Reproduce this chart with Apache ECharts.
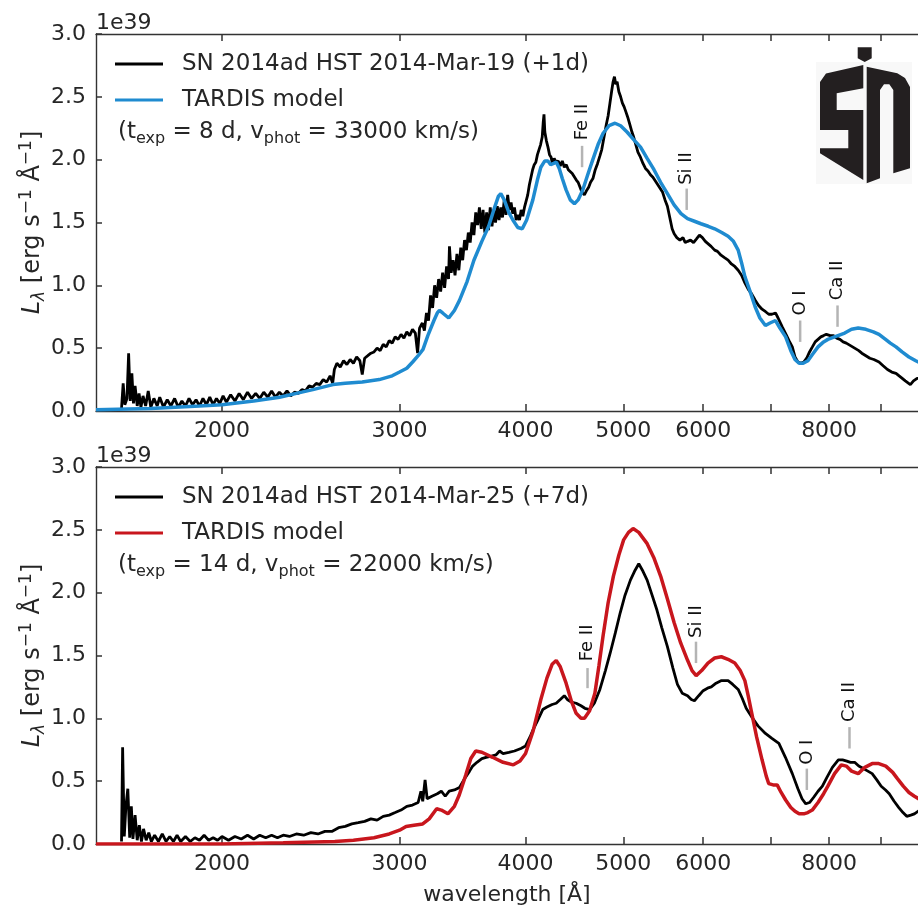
<!DOCTYPE html>
<html>
<head>
<meta charset="utf-8">
<script src="https://cdn.jsdelivr.net/npm/echarts@6.0.0/dist/echarts.min.js"></script>
<style>
  html, body { margin: 0; padding: 0; background: #fff; }
  #main { width: 918px; height: 908px; }
</style>
</head>
<body>
<div id="main"></div>
<script>
// wavelength [A], luminosity [1e39 erg/s/A]
const obsMar19 = [
  [1590,0.02],[1596,0.22],[1602,0.05],[1610,0.10],[1616,0.46],[1622,0.08],[1628,0.30],[1634,0.06],
  [1640,0.20],[1648,0.04],[1655,0.14],[1662,0.03],[1670,0.12],[1680,0.04],[1690,0.16],[1700,0.03],
  [1712,0.10],[1725,0.04],[1735,0.11],[1750,0.03],[1765,0.09],[1780,0.04],[1795,0.10],[1810,0.03],
  [1825,0.08],[1840,0.04],[1855,0.10],[1870,0.05],[1885,0.09],[1900,0.04],[1915,0.10],[1930,0.05],
  [1945,0.11],[1960,0.05],[1975,0.10],[1990,0.06],[2005,0.12],[2020,0.07],[2040,0.13],[2060,0.08],
  [2080,0.14],[2100,0.09],[2120,0.15],[2140,0.10],[2160,0.14],[2180,0.10],[2200,0.15],[2220,0.11],
  [2240,0.16],[2260,0.11],[2280,0.15],[2300,0.12],[2320,0.16],[2340,0.12],[2360,0.15],[2380,0.14],
  [2400,0.17],[2420,0.16],[2440,0.20],[2460,0.19],[2480,0.22],[2500,0.21],[2520,0.25],[2540,0.23],
  [2560,0.28],[2575,0.22],[2585,0.33],[2600,0.38],[2620,0.35],[2640,0.40],[2660,0.37],[2680,0.41],
  [2700,0.38],[2720,0.43],[2740,0.40],[2755,0.29],[2770,0.42],[2790,0.44],[2810,0.46],[2830,0.47],
  [2850,0.50],[2870,0.48],[2890,0.53],[2910,0.51],[2930,0.56],[2950,0.54],[2970,0.59],[2990,0.57],
  [3010,0.61],[3030,0.58],[3050,0.63],[3070,0.60],[3090,0.65],[3110,0.62],[3126,0.46],[3140,0.66],
  [3160,0.70],[3175,0.64],[3190,0.78],[3205,0.72],[3220,0.92],[3235,0.82],[3250,1.00],[3265,0.90],
  [3280,1.05],[3295,0.95],[3310,1.10],[3325,0.98],[3340,1.15],[3355,1.05],[3362,1.31],[3375,1.10],
  [3390,1.20],[3405,1.08],[3420,1.25],[3435,1.12],[3450,1.30],[3465,1.20],[3480,1.36],[3495,1.28],
  [3510,1.42],[3525,1.34],[3540,1.50],[3555,1.40],[3570,1.58],[3585,1.48],[3600,1.62],[3615,1.45],
  [3630,1.60],[3645,1.42],[3660,1.58],[3675,1.44],[3690,1.62],[3705,1.47],[3720,1.60],[3735,1.50],
  [3750,1.63],[3765,1.52],[3780,1.62],[3795,1.54],[3810,1.68],[3825,1.56],[3840,1.72],[3855,1.60],
  [3870,1.66],[3885,1.57],[3900,1.62],[3915,1.52],[3930,1.56],[3945,1.52],[3960,1.60],[3975,1.55],
  [3990,1.62],[4005,1.62],[4020,1.72],[4035,1.80],[4050,1.86],[4065,1.92],[4080,1.96],[4095,1.98],
  [4110,2.04],[4125,2.08],[4140,2.12],[4155,2.18],[4165,2.30],[4172,2.36],[4180,2.22],[4195,2.15],
  [4210,2.10],[4225,2.04],[4240,2.02],[4255,1.96],[4270,2.01],[4290,1.98],[4310,1.99],[4330,1.95],
  [4350,1.99],[4370,1.94],[4390,1.96],[4410,1.92],[4430,1.93],[4450,1.89],[4470,1.88],[4490,1.84],
  [4510,1.82],[4530,1.78],[4550,1.74],[4575,1.72],[4595,1.75],[4620,1.78],[4640,1.82],[4665,1.85],
  [4690,1.92],[4715,1.97],[4740,2.03],[4760,2.08],[4785,2.18],[4810,2.28],[4830,2.35],[4850,2.45],
  [4870,2.55],[4885,2.62],[4900,2.66],[4915,2.60],[4930,2.62],[4950,2.54],[4970,2.50],[4990,2.45],
  [5010,2.42],[5030,2.38],[5050,2.34],[5075,2.28],[5100,2.22],[5120,2.18],[5145,2.12],[5170,2.06],
  [5200,2.02],[5230,1.97],[5260,1.93],[5290,1.91],[5320,1.88],[5350,1.86],[5380,1.83],[5410,1.80],
  [5440,1.77],[5470,1.74],[5500,1.68],[5530,1.63],[5560,1.54],[5590,1.45],[5616,1.41],[5650,1.38],
  [5690,1.36],[5730,1.38],[5760,1.34],[5792,1.35],[5830,1.36],[5870,1.34],[5910,1.37],[5950,1.40],
  [5990,1.38],[6030,1.35],[6070,1.33],[6110,1.31],[6160,1.28],[6200,1.27],[6250,1.24],[6300,1.22],
  [6352,1.20],[6400,1.17],[6450,1.15],[6500,1.12],[6550,1.08],[6600,1.02],[6650,0.97],[6705,0.93],
  [6760,0.88],[6810,0.84],[6864,0.81],[6920,0.79],[6970,0.77],[7020,0.77],[7078,0.78],[7120,0.74],
  [7188,0.67],[7250,0.61],[7300,0.56],[7355,0.51],[7400,0.43],[7450,0.39],[7500,0.38],[7550,0.39],
  [7600,0.42],[7650,0.47],[7700,0.51],[7750,0.55],[7800,0.57],[7850,0.59],[7900,0.60],[7950,0.61],
  [7980,0.62],[8020,0.60],[8080,0.60],[8140,0.58],[8200,0.57],[8260,0.55],[8320,0.54],[8400,0.52],
  [8480,0.50],[8560,0.48],[8620,0.46],[8700,0.44],[8780,0.42],[8860,0.41],[8965,0.39],[9050,0.36],
  [9140,0.33],[9230,0.31],[9320,0.30],[9420,0.27],[9520,0.24],[9630,0.21],[9700,0.24],[9780,0.26],
  [9860,0.26]
];
const modelMar19 = [
  [1500,0.01],[1700,0.02],[1900,0.04],[2000,0.05],[2150,0.08],[2281,0.11],[2400,0.15],[2461,0.17],
  [2577,0.21],[2650,0.22],[2755,0.23],[2864,0.25],[2950,0.28],[3000,0.31],[3050,0.34],[3091,0.39],
  [3130,0.44],[3165,0.49],[3200,0.60],[3245,0.72],[3270,0.78],[3286,0.80],[3310,0.78],[3356,0.74],
  [3400,0.80],[3440,0.88],[3500,1.03],[3555,1.20],[3620,1.35],[3677,1.47],[3720,1.60],[3760,1.71],
  [3780,1.73],[3810,1.68],[3850,1.58],[3886,1.52],[3930,1.46],[3970,1.45],[4010,1.52],[4067,1.68],
  [4110,1.84],[4142,1.94],[4180,1.99],[4210,1.99],[4236,1.96],[4265,1.97],[4292,1.98],[4320,1.93],
  [4350,1.85],[4388,1.76],[4430,1.68],[4472,1.65],[4510,1.68],[4559,1.76],[4610,1.88],[4664,2.00],
  [4720,2.12],[4775,2.21],[4840,2.27],[4907,2.29],[4970,2.27],[5043,2.22],[5120,2.16],[5201,2.10],
  [5280,2.01],[5363,1.92],[5445,1.82],[5530,1.73],[5615,1.64],[5704,1.57],[5790,1.53],[5882,1.51],
  [5970,1.49],[6070,1.47],[6160,1.45],[6260,1.42],[6352,1.39],[6430,1.35],[6500,1.28],[6550,1.18],
  [6600,1.07],[6680,0.95],[6756,0.83],[6830,0.74],[6917,0.68],[6990,0.70],[7078,0.72],[7150,0.66],
  [7244,0.59],[7330,0.48],[7400,0.41],[7470,0.38],[7540,0.38],[7622,0.40],[7700,0.45],[7800,0.51],
  [7900,0.55],[7977,0.57],[8100,0.59],[8290,0.62],[8420,0.65],[8550,0.66],[8700,0.65],[8850,0.63],
  [8965,0.61],[9100,0.57],[9200,0.54],[9320,0.51],[9450,0.47],[9600,0.43],[9750,0.40],[9860,0.38]
];
const obsMar25 = [
  [1590,0.02],[1594,0.77],[1600,0.06],[1606,0.30],[1613,0.44],[1620,0.05],[1626,0.30],[1632,0.04],
  [1640,0.23],[1648,0.03],[1656,0.15],[1664,0.02],[1672,0.12],[1682,0.03],[1692,0.09],[1702,0.02],
  [1715,0.07],[1730,0.02],[1745,0.08],[1760,0.02],[1775,0.06],[1790,0.02],[1805,0.07],[1820,0.02],
  [1840,0.06],[1860,0.02],[1880,0.05],[1900,0.03],[1920,0.07],[1940,0.03],[1960,0.05],[1980,0.03],
  [2000,0.06],[2030,0.03],[2060,0.06],[2090,0.04],[2120,0.07],[2150,0.04],[2180,0.07],[2210,0.05],
  [2240,0.07],[2270,0.05],[2300,0.07],[2333,0.06],[2370,0.08],[2410,0.07],[2450,0.09],[2490,0.08],
  [2530,0.10],[2570,0.10],[2610,0.13],[2650,0.14],[2690,0.16],[2730,0.17],[2770,0.18],[2810,0.20],
  [2850,0.19],[2890,0.22],[2930,0.23],[2970,0.25],[3010,0.27],[3050,0.30],[3090,0.31],[3130,0.33],
  [3150,0.42],[3163,0.34],[3180,0.51],[3195,0.36],[3230,0.38],[3270,0.40],[3300,0.42],[3330,0.38],
  [3360,0.42],[3400,0.43],[3440,0.45],[3480,0.52],[3520,0.58],[3545,0.62],[3580,0.65],[3620,0.68],
  [3655,0.69],[3700,0.70],[3740,0.71],[3770,0.74],[3800,0.72],[3850,0.73],[3900,0.74],[3958,0.76],
  [4000,0.78],[4040,0.85],[4070,0.91],[4110,0.98],[4160,1.07],[4200,1.09],[4250,1.11],[4290,1.12],
  [4330,1.15],[4370,1.18],[4400,1.15],[4440,1.13],[4490,1.12],[4540,1.10],[4580,1.08],[4630,1.07],
  [4680,1.12],[4740,1.23],[4800,1.38],[4853,1.52],[4910,1.68],[4965,1.84],[5020,1.98],[5082,2.10],
  [5130,2.17],[5180,2.23],[5230,2.17],[5280,2.10],[5340,1.98],[5400,1.86],[5460,1.72],[5530,1.57],
  [5600,1.40],[5658,1.27],[5720,1.20],[5790,1.18],[5840,1.15],[5882,1.14],[5940,1.18],[6000,1.22],
  [6060,1.24],[6113,1.25],[6180,1.28],[6250,1.30],[6352,1.30],[6420,1.27],[6500,1.23],[6560,1.16],
  [6620,1.08],[6705,1.01],[6800,0.94],[6917,0.88],[7020,0.84],[7133,0.80],[7240,0.69],[7355,0.56],
  [7450,0.44],[7520,0.36],[7585,0.32],[7650,0.33],[7720,0.37],[7800,0.42],[7878,0.46],[7960,0.53],
  [8060,0.61],[8170,0.67],[8250,0.67],[8330,0.66],[8400,0.65],[8480,0.65],[8560,0.62],[8650,0.60],
  [8740,0.58],[8826,0.56],[8920,0.51],[9010,0.46],[9100,0.43],[9177,0.40],[9280,0.34],[9380,0.29],
  [9470,0.25],[9551,0.22],[9640,0.23],[9720,0.24],[9800,0.26],[9860,0.27]
];
const modelMar25 = [
  [1500,0.00],[2000,0.00],[2300,0.01],[2588,0.02],[2700,0.03],[2830,0.05],[2930,0.08],[3000,0.11],
  [3045,0.14],[3100,0.15],[3163,0.16],[3210,0.20],[3265,0.28],[3300,0.27],[3350,0.24],[3400,0.30],
  [3438,0.39],[3490,0.55],[3530,0.68],[3570,0.74],[3620,0.73],[3710,0.69],[3800,0.65],[3890,0.63],
  [3950,0.66],[4000,0.72],[4070,0.90],[4142,1.15],[4200,1.32],[4250,1.43],[4290,1.46],[4330,1.41],
  [4388,1.28],[4440,1.14],[4490,1.04],[4540,1.00],[4576,1.00],[4630,1.06],[4686,1.20],[4730,1.42],
  [4775,1.66],[4830,1.92],[4888,2.13],[4950,2.30],[5004,2.42],[5060,2.48],[5113,2.51],[5180,2.48],
  [5280,2.39],[5360,2.28],[5446,2.13],[5530,1.95],[5616,1.76],[5700,1.60],[5792,1.46],[5850,1.38],
  [5905,1.34],[5980,1.38],[6066,1.44],[6160,1.48],[6255,1.49],[6350,1.47],[6450,1.44],[6530,1.38],
  [6600,1.30],[6650,1.18],[6705,1.04],[6780,0.85],[6864,0.67],[6930,0.54],[6970,0.48],[7040,0.47],
  [7105,0.47],[7170,0.41],[7244,0.35],[7330,0.29],[7400,0.26],[7470,0.24],[7550,0.24],[7620,0.25],
  [7698,0.27],[7800,0.33],[7900,0.40],[7977,0.46],[8100,0.56],[8226,0.63],[8320,0.62],[8420,0.58],
  [8550,0.56],[8680,0.61],[8826,0.64],[8960,0.64],[9105,0.62],[9250,0.57],[9350,0.52],[9476,0.46],
  [9600,0.41],[9720,0.38],[9860,0.35]
];

// line IDs: [wavelength, line bottom, line top, label centre]
const lineNames = ['Fe II', 'Si II', 'O I', 'Ca II'];
const linesMar19 = [[4551,1.94,2.11,2.30],[5779,1.60,1.77,1.93],[7488,0.55,0.72,0.86],[8155,0.67,0.84,1.04]];
const linesMar25 = [[4608,1.24,1.40,1.60],[5903,1.44,1.61,1.77],[7603,0.43,0.60,0.73],[8381,0.76,0.93,1.13]];

const tickWaves = [2000, 3000, 4000, 5000, 6000, 7000, 8000, 9000];
const labelWaves = [2000, 3000, 4000, 5000, 6000, 8000];
const X_MIN = 1500, X_MAX = 9800;

const FONT = 'DejaVu Sans';
const TXT = '#262626';
const AX = '#333333';
const logX = w => Math.log10(w);
const toXY = arr => arr.map(p => [logX(p[0]), p[1]]);

function xAxisFor(grid, pos, labels, name) {
  return {
    type: 'value', gridIndex: grid, position: pos,
    min: logX(X_MIN), max: logX(X_MAX),
    name: name || '', nameLocation: 'middle', nameGap: 40,
    nameTextStyle: { fontFamily: FONT, fontSize: 22, color: TXT },
    // onZero off, otherwise the top frame axis drops onto y = 0
    axisLine: { show: true, onZero: false, lineStyle: { color: AX, width: 1.4 } },
    axisTick: { show: true, inside: true, length: 7, customValues: tickWaves.map(logX),
                lineStyle: { color: AX, width: 1.5 } },
    axisLabel: { show: labels, customValues: labelWaves.map(logX), margin: 9,
                 formatter: v => Math.round(Math.pow(10, v)),
                 fontFamily: FONT, fontSize: 22, color: TXT },
    splitLine: { show: false }
  };
}

function yAxesFor(grid) {
  return [{
    type: 'value', gridIndex: grid, position: 'left', min: 0, max: 3, interval: 0.5,
    name: '{i|L}{s|λ}{a| [erg s}{p|−1}{a| Å}{p|−1}{a|]}',
    nameLocation: 'middle', nameGap: 48, nameRotate: 90, nameMoveOverlap: false,
    nameTextStyle: {
      fontFamily: FONT, color: TXT,
      rich: {
        i: { fontFamily: FONT, fontSize: 24, fontStyle: 'italic', color: TXT, lineHeight: 30 },
        s: { fontFamily: FONT, fontSize: 17, fontStyle: 'italic', color: TXT, verticalAlign: 'bottom', lineHeight: 24 },
        a: { fontFamily: FONT, fontSize: 24, color: TXT, lineHeight: 30 },
        p: { fontFamily: FONT, fontSize: 17, color: TXT, verticalAlign: 'top', lineHeight: 24 }
      }
    },
    axisLine: { show: true, onZero: false, lineStyle: { color: AX, width: 1.4 } },
    axisTick: { show: true, inside: true, length: 6, lineStyle: { color: AX, width: 1.5 } },
    axisLabel: { formatter: v => v.toFixed(1), margin: 10, fontFamily: FONT, fontSize: 22, color: TXT },
    splitLine: { show: false }
  }, {
    // only carries the offset text
    type: 'value', gridIndex: grid, position: 'left', offset: 0, min: 0, max: 3,
    name: '1e39', nameLocation: 'end', nameGap: 0,
    nameTextStyle: { fontFamily: FONT, fontSize: 22, color: TXT, align: 'left', verticalAlign: 'bottom' },
    axisLine: { show: false, onZero: false }, axisTick: { show: false }, axisLabel: { show: false },
    splitLine: { show: false }
  }];
}

function lineSeries(name, data, xi, yi, color, width, z) {
  return {
    name: name, type: 'line', xAxisIndex: xi, yAxisIndex: yi, data: toXY(data),
    symbol: 'none', showSymbol: false, smooth: false, z: z,
    lineStyle: { color: color, width: width }, itemStyle: { color: color },
    emphasis: { disabled: true }
  };
}

function lineIdSeries(ids, xi, yi) {
  return {
    type: 'custom', xAxisIndex: xi, yAxisIndex: yi, z: 10, silent: true,
    encode: { x: 0, y: [1, 2, 3] },
    data: ids.map((d, i) => [logX(d[0]), d[1], d[2], d[3], i]),
    renderItem: function (params, api) {
      const a = api.coord([api.value(0), api.value(1)]);
      const b = api.coord([api.value(0), api.value(2)]);
      const t = api.coord([api.value(0), api.value(3)]);
      return {
        type: 'group',
        children: [{
          type: 'line', shape: { x1: a[0], y1: a[1], x2: b[0], y2: b[1] },
          style: { stroke: '#b4b4b4', lineWidth: 2.5 }
        }, {
          type: 'text', x: t[0], y: t[1], rotation: Math.PI / 2,
          style: { text: lineNames[api.value(4)], fontFamily: FONT, fontSize: 18, fill: '#111',
                   align: 'center', verticalAlign: 'middle' }
        }]
      };
    }
  };
}

function paramText(top, texp, vphot) {
  return {
    type: 'text', left: 118, top: top,
    style: {
      text: '{a|(t}{s|exp}{a| = ' + texp + ' d, v}{s|phot}{a| = ' + vphot + ' km/s)}',
      rich: {
        a: { fontFamily: FONT, fontSize: 23, fill: TXT, lineHeight: 28 },
        s: { fontFamily: FONT, fontSize: 16, fill: TXT, verticalAlign: 'bottom', lineHeight: 20 }
      }
    }
  };
}

function legendFor(top, names) {
  return {
    orient: 'vertical', left: 115, top: top, padding: 0, itemGap: 8,
    icon: 'rect', itemWidth: 48, itemHeight: 3, data: names, selectedMode: false,
    textStyle: { fontFamily: FONT, fontSize: 23, color: TXT, lineHeight: 28, padding: [0, 0, 0, 14] }
  };
}

const logoInk = '#231f20';
const logo = [
  { type: 'rect', shape: { x: 816, y: 62, width: 96, height: 122 }, style: { fill: '#f8f8f8' }, z: 1 },
  { type: 'polygon', z: 2, style: { fill: logoInk },
    shape: { points: [[857.7,47.3],[871.7,47.3],[871.7,58.3],[864.7,62],[857.7,58.3]] } },
  { type: 'polygon', z: 2, style: { fill: logoInk },
    shape: { points: [[820,82],[826,73.5],[863.3,65],[863.3,88.3],[836.7,93.3],[836.7,110],[863.3,110],
                      [863.3,180],[820,153.3],[820,148.3],[848.3,148.3],[848.3,130],[820,130]] } },
  { type: 'polygon', z: 2, style: { fill: logoInk },
    shape: { points: [[866.7,66.7],[897.3,73.3],[905,78],[910,87],[910,168.3],[893.3,173.3],[893.3,90],
                      [889.3,84.3],[884,84.3],[880,90],[880,178.3],[866.7,183.3]] } }
];

const chart = echarts.init(document.getElementById('main'), null, { renderer: 'canvas' });
chart.setOption({
  animation: false,
  backgroundColor: '#fff',
  textStyle: { fontFamily: FONT },
  grid: [
    { left: 96, right: 0, top: 34, height: 377, outerBoundsMode: 'none' },
    { left: 96, right: 0, top: 467, height: 377, outerBoundsMode: 'none' }
  ],
  xAxis: [
    xAxisFor(0, 'bottom', true),
    xAxisFor(0, 'top', false),
    xAxisFor(1, 'bottom', true, 'wavelength [Å]'),
    xAxisFor(1, 'top', false)
  ],
  yAxis: yAxesFor(0).concat(yAxesFor(1)),
  legend: [
    legendFor(50, ['SN 2014ad HST 2014-Mar-19 (+1d)', 'TARDIS model']),
    legendFor(483, ['SN 2014ad HST 2014-Mar-25 (+7d)', 'TARDIS model '])
  ],
  graphic: [paramText(121, 8, 33000), paramText(554, 14, 22000)].concat(logo),
  series: [
    lineSeries('SN 2014ad HST 2014-Mar-19 (+1d)', obsMar19, 0, 0, '#000000', 2.8, 2),
    lineSeries('TARDIS model', modelMar19, 0, 0, '#1f8bd0', 3.5, 3),
    lineIdSeries(linesMar19, 0, 0),
    lineSeries('SN 2014ad HST 2014-Mar-25 (+7d)', obsMar25, 2, 2, '#000000', 2.8, 2),
    lineSeries('TARDIS model ', modelMar25, 2, 2, '#c8161d', 3.5, 3),
    lineIdSeries(linesMar25, 2, 2)
  ]
});
</script>
</body>
</html>
